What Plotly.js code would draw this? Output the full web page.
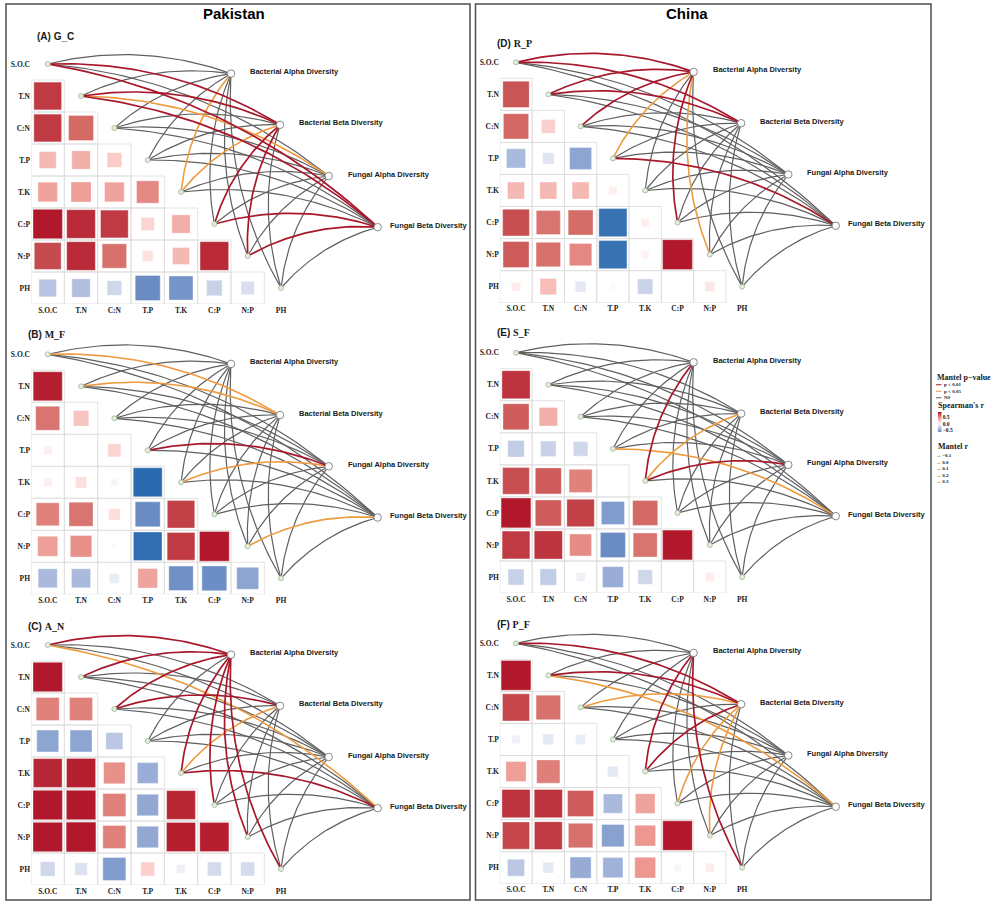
<!DOCTYPE html>
<html><head><meta charset="utf-8">
<script src="https://cdn.plot.ly/plotly-3.0.1.min.js"></script>
<style>body{margin:0;background:#fff}</style>
</head><body><div id="chart" style="width:1000px;height:907px"></div>
<script>
// ---------------- DATA ----------------
const envLabels = ['S.O.C','T.N','C:N','T.P','T.K','C:P','N:P','PH'];
const specLabels = ['Bacterial Alpha Diversity','Bacterial Beta Diversity','Fungal Alpha Diversity','Fungal Beta Diversity'];
const panelTags = ['(A)','(B)','(C)','(D)','(E)','(F)'];
const panelNames = ['G_C','M_F','A_N','R_P','S_F','P_F'];
const groupTitles = ['Pakistan','China'];

// Spearman's r, lower triangle; row k = envLabels[k+1], columns envLabels[0..k]
const rGC = [
 [0.80],
 [0.80,0.65],
 [0.30,0.35,0.22],
 [0.40,0.42,0.40,0.52],
 [0.90,0.85,0.80,0.18,0.35],
 [0.75,0.85,0.62,0.12,0.30,0.85],
 [-0.32,-0.35,-0.22,-0.65,-0.60,-0.25,-0.18]
];
const rMF = [
 [0.88],
 [0.60,0.25],
 [0.07,0.01,0.18],
 [0.07,0.13,-0.05,-0.87],
 [0.55,0.60,0.14,-0.65,0.78],
 [0.42,0.48,0.03,-0.85,0.80,0.92],
 [-0.38,-0.38,-0.10,0.40,-0.62,-0.64,-0.50]
];
const rAN = [
 [0.90],
 [0.55,0.55],
 [-0.50,-0.50,-0.30],
 [0.86,0.88,0.48,-0.45],
 [0.90,0.90,0.55,-0.48,0.86],
 [0.90,0.92,0.55,-0.48,0.88,0.88],
 [-0.22,-0.16,-0.55,0.20,-0.08,-0.20,-0.20]
];
const rRP = [
 [0.72],
 [0.66,0.20],
 [-0.38,-0.14,-0.50],
 [0.30,0.30,0.30,0.07],
 [0.74,0.60,0.64,-0.82,0.07],
 [0.70,0.62,0.52,-0.82,0.06,0.92],
 [0.08,0.28,-0.12,0.03,-0.24,0.01,0.10]
];
const rSF = [
 [0.82],
 [0.70,0.35],
 [-0.28,-0.25,-0.22],
 [0.74,0.70,0.55,0.00],
 [0.92,0.70,0.78,-0.55,0.65],
 [0.80,0.82,0.50,-0.65,0.60,0.92],
 [-0.26,-0.28,-0.08,-0.45,-0.22,0.00,0.08]
];
const rPF = [
 [0.92],
 [0.76,0.62],
 [-0.07,-0.12,-0.10],
 [0.42,0.56,0.01,-0.12],
 [0.82,0.82,0.70,-0.38,0.40],
 [0.76,0.80,0.62,-0.52,0.45,0.90],
 [-0.30,-0.12,-0.46,-0.42,0.45,-0.05,0.08]
];
// Mantel p-value class per env (rows) x spec (Bacterial α, Bacterial β, Fungal α, Fungal β)
// r = p<0.01, o = p<0.05, n = NS
const sigGC = ['nrnr','nror','nnnn','nnnn','oonn','nrnr','nrnr','nnnn'];
const sigMF = ['nonn','nonn','nnnn','nnrn','nnon','nnnn','nnno','nnnn'];
const sigAN = ['rnno','rnnn','rrnn','nnnn','ronr','rnnn','rnnn','rnnn'];
const sigRP = ['rrnn','rrnn','rnnn','onnr','nnnn','rnnn','onnn','nnnn'];
const sigSF = ['nnnn','nnnn','nnnn','nnno','rorn','nnnn','nnnn','nnnn'];
const sigPF = ['nrnn','nrno','nonn','nnnn','rrnn','nonn','nonn','rnnn'];

const legendPLabels = ['p < 0.01','p < 0.05','NS'];
const legendRTicks = ['0.5','0.0','\u22120.5'];
const legendMantelR = ['\u22120.1','0.0','0.1','0.2','0.3'];

const rData = [rGC,rMF,rAN,rRP,rSF,rPF];
const sigData = [sigGC,sigMF,sigAN,sigRP,sigSF,sigPF];

// ---------------- LAYOUT / STYLE ----------------
const W=1000,H=907;
const px=p=>p/W, py=p=>1-p/H;
const geom = [
 {ox:47.7, oy:64,    cw:33.33, ch:32,    tx:35,  ty:37},
 {ox:47.7, oy:354.3, cw:33.33, ch:32,    tx:26,  ty:334},
 {ox:47.7, oy:645,   cw:33.33, ch:32,    tx:26,  ty:626},
 {ox:516,  oy:62.3,  cw:32.3,  ch:32.05, tx:495, ty:43},
 {ox:516,  oy:352.7, cw:32.3,  ch:32.05, tx:495, ty:333},
 {ox:516,  oy:643.3, cw:32.3,  ch:32.05, tx:495, ty:624}
];
const specCol=[5.5,6.97,8.43,9.9], specRow=[0.3,1.9,3.5,5.1];
const specLabelGap=[17,17,17,10];
const cscale=[[0,'#2166AC'],[0.125,'#6488C1'],[0.25,'#99ADD6'],[0.375,'#CED6EA'],[0.5,'#FFFFFF'],
  [0.625,'#FACAC6'],[0.75,'#EC9891'],[0.875,'#D06460'],[1,'#B2182B']];
const lineStyle={n:{c:'#606060',w:1.2},o:{c:'#EE9A3E',w:1.6},r:{c:'#A8182C',w:1.7}};
const serifB={family:'Liberation Serif, Times New Roman, serif',weight:'bold',color:'#1a1a1a'};
const sansB={family:'Liberation Sans, Arial, sans-serif',weight:'bold',color:'#1a1a1a'};

const traces=[], shapes=[], annotations=[];
const layout={width:W,height:H,margin:{l:0,r:0,t:0,b:0},paper_bgcolor:'#fff',plot_bgcolor:'rgba(0,0,0,0)',
  showlegend:false,hovermode:false};

geom.forEach((g,k)=>{
  const sfx = k===0?'':String(k+1);
  const xa='x'+sfx, ya='y'+sfx;
  layout['xaxis'+sfx]={domain:[px(g.ox-0.5*g.cw),px(g.ox+11.5*g.cw)],range:[-0.5,11.5],
    tickvals:[0,1,2,3,4,5,6,7],ticktext:envLabels,showgrid:false,zeroline:false,showline:false,ticks:'',
    tickfont:Object.assign({size:7.5},serifB),anchor:ya,fixedrange:true};
  layout['yaxis'+sfx]={domain:[py(g.oy+7.5*g.ch),py(g.oy-0.5*g.ch)],range:[7.5,-0.5],
    tickvals:[0,1,2,3,4,5,6,7],ticktext:envLabels,showgrid:false,zeroline:false,showline:false,ticks:'',
    tickfont:Object.assign({size:7.5},serifB),anchor:xa,fixedrange:true};
  const cell=Math.min(g.cw,g.ch);
  const R=rData[k];
  const xs=[],ys=[],cs=[],ss=[];
  R.forEach((row,ri)=>{
    const i=ri+1;
    row.forEach((v,j)=>{
      shapes.push({type:'rect',xref:xa,yref:ya,x0:j-0.5,x1:j+0.5,y0:i-0.5,y1:i+0.5,
        line:{color:'#DCDCDC',width:0.8},fillcolor:'rgba(0,0,0,0)',layer:'below'});
      xs.push(j);ys.push(i);cs.push(v);ss.push(Math.max(0.5,cell*Math.sqrt(Math.abs(v))*0.97));
    });
  });
  traces.push({type:'scatter',mode:'markers',x:xs,y:ys,xaxis:xa,yaxis:ya,hoverinfo:'skip',
    marker:{symbol:'square',size:ss,opacity:1,color:cs,colorscale:cscale,cmin:-0.9,cmax:0.9,
      line:{width:0.6,color:'rgba(255,255,255,0.6)'}}});
  // curves
  const S=sigData[k];
  const groups={n:{x:[],y:[]},o:{x:[],y:[]},r:{x:[],y:[]}};
  for(let i=0;i<8;i++){
    for(let s=0;s<4;s++){
      const code=S[i][s];
      const p0=[g.ox+i*g.cw,g.oy+i*g.ch];
      const p2=[g.ox+specCol[s]*g.cw,g.oy+specRow[s]*g.ch];
      const dx=p2[0]-p0[0],dy=p2[1]-p0[1],len=Math.hypot(dx,dy);
      const nx=dy/len,ny=-dx/len,off=0.15*len;
      const c=[(p0[0]+p2[0])/2+nx*off,(p0[1]+p2[1])/2+ny*off];
      const N=40;
      for(let t=0;t<=N;t++){
        const u=t/N,a=(1-u)*(1-u),b=2*u*(1-u),d=u*u;
        const X=a*p0[0]+b*c[0]+d*p2[0],Y=a*p0[1]+b*c[1]+d*p2[1];
        groups[code].x.push((X-g.ox)/g.cw);groups[code].y.push((Y-g.oy)/g.ch);
      }
      groups[code].x.push(null);groups[code].y.push(null);
    }
  }
  ['n','o','r'].forEach(code=>{
    traces.push({type:'scatter',mode:'lines',x:groups[code].x,y:groups[code].y,xaxis:xa,yaxis:ya,
      hoverinfo:'skip',line:{color:lineStyle[code].c,width:lineStyle[code].w}});
  });
  // env nodes
  traces.push({type:'scatter',mode:'markers',x:[0,1,2,3,4,5,6,7],y:[0,1,2,3,4,5,6,7],xaxis:xa,yaxis:ya,
    hoverinfo:'skip',marker:{size:5,opacity:1,color:'#E3EEDC',line:{color:'#9CB796',width:0.8}}});
  // spec nodes
  traces.push({type:'scatter',mode:'markers',x:specCol,y:specRow,xaxis:xa,yaxis:ya,hoverinfo:'skip',
    marker:{size:7.5,opacity:1,color:'#FFFFFF',line:{color:'#7A7A7A',width:0.9}}});
  specLabels.forEach((lab,s)=>{
    annotations.push({xref:xa,yref:ya,x:specCol[s]+specLabelGap[s]/g.cw,y:specRow[s],text:lab,showarrow:false,
      xanchor:'left',yanchor:'middle',yshift:2,font:Object.assign({size:7.5},sansB)});
  });
  // panel title
  const sub = k===0 ? panelNames[k] : '<span style="font-family:Liberation Serif">'+panelNames[k]+'</span>';
  annotations.push({xref:'paper',yref:'paper',x:px(g.tx),y:py(g.ty),xanchor:'left',yanchor:'middle',
    showarrow:false,text:panelTags[k]+' '+sub,font:Object.assign({size:10},sansB)});
});

// group boxes and titles
shapes.push({type:'rect',xref:'paper',yref:'paper',x0:px(6),x1:px(470),y0:py(900),y1:py(4),line:{color:'#4D4D4D',width:1.5}});
shapes.push({type:'rect',xref:'paper',yref:'paper',x0:px(475.5),x1:px(931),y0:py(900),y1:py(4),line:{color:'#4D4D4D',width:1.5}});
annotations.push({xref:'paper',yref:'paper',x:px(234),y:py(13),text:groupTitles[0],showarrow:false,
  xanchor:'center',yanchor:'middle',font:Object.assign({size:15},sansB,{color:'#000'})});
annotations.push({xref:'paper',yref:'paper',x:px(686.5),y:py(13),text:groupTitles[1],showarrow:false,
  xanchor:'center',yanchor:'middle',font:Object.assign({size:15},sansB,{color:'#000'})});

// ---------------- LEGEND ----------------
function leg(x,y,text,size,font,yanchor){
  annotations.push({xref:'paper',yref:'paper',x:px(x),y:py(y),text:text,showarrow:false,xanchor:'left',
    yanchor:yanchor||'middle',align:'left',borderpad:0,font:Object.assign({size:size},font||serifB)});
}
leg(935.5,377.3,'Mantel p\u2212value',8);
const pCols=['r','o','n'];
const lh=5*1.3;            // line spacing of a 5px multi-line legend text
const pTop=381.5;
legendPLabels.forEach((lab,i)=>{
  const yy=pTop+lh*(i+0.5);
  shapes.push({type:'line',xref:'paper',yref:'paper',x0:px(936),x1:px(941.5),y0:py(yy),y1:py(yy),
    line:{color:lineStyle[pCols[i]].c,width:1}});
});
leg(943,pTop,legendPLabels.join('<br>'),5,serifB,'top');
leg(936.5,405,'Spearman\'s r',8);
// colorbar as small heatmap
const cbarVals=[];
for(let v=-0.65;v<=0.921;v+=0.01) cbarVals.push(+v.toFixed(2));
traces.push({type:'heatmap',x:[0],y:cbarVals,z:cbarVals.map(v=>[v]),xaxis:'x7',yaxis:'y7',
  colorscale:cscale,zmin:-0.9,zmax:0.9,showscale:false,hoverinfo:'skip'});
layout.xaxis7={domain:[px(937.7),px(941.7)],range:[-0.5,0.5],visible:false,anchor:'y7',fixedrange:true};
layout.yaxis7={domain:[py(432),py(412)],range:[-0.655,0.925],anchor:'x7',side:'right',
  tickvals:[0.5,0,-0.5],ticktext:legendRTicks,ticks:'',showgrid:false,zeroline:false,showline:false,
  tickfont:Object.assign({size:5.5},serifB),fixedrange:true};
leg(936.5,446,'Mantel r',8);
leg(934.5,451.5,legendMantelR.map(l=>'\u2192 '+l).join('<br>'),5,serifB,'top');

layout.shapes=shapes;
layout.annotations=annotations;
Plotly.newPlot('chart',traces,layout,{displayModeBar:false,staticPlot:true});
</script>
</body></html>
